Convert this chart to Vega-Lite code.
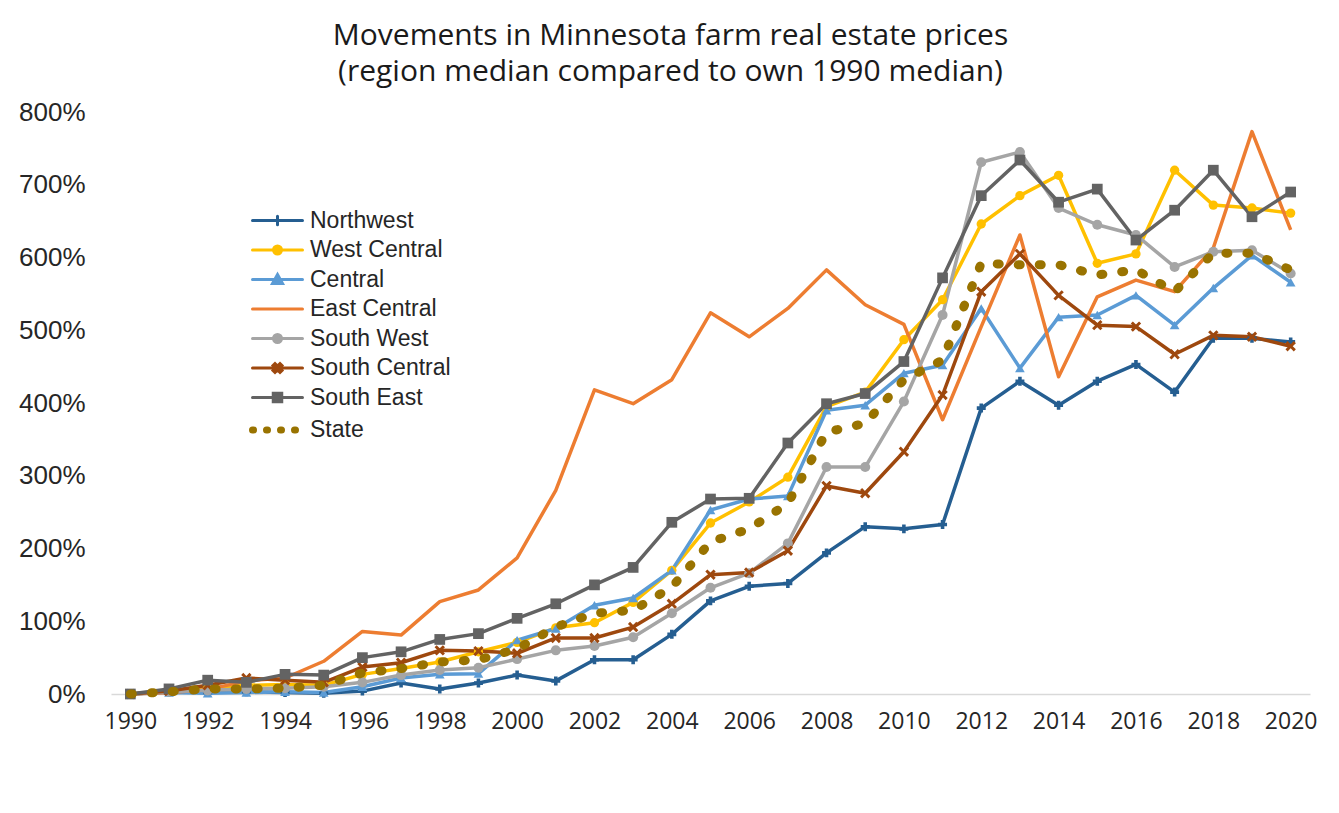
{
  "$schema": "https://vega.github.io/schema/vega-lite/v6.json",
  "width": 1199,
  "height": 582,
  "autosize": {"type": "none"},
  "padding": {"left": 111, "top": 112, "right": 29, "bottom": 119},
  "background": "white",
  "config": {"view": {"stroke": null}},
  "title": {
    "text": ["Movements in Minnesota farm real estate prices", "(region median compared to own 1990 median)"],
    "font": "Open Sans", "fontSize": 30, "fontWeight": "normal", "color": "#1a1a1a",
    "anchor": "middle", "frame": "group", "dx": -40, "offset": 12, "lineHeight": 36
  },
  "datasets": {
    "d": [
      {"region":"Northwest","year":1990,"value":0},{"region":"Northwest","year":1991,"value":3},{"region":"Northwest","year":1992,"value":2},{"region":"Northwest","year":1993,"value":3},{"region":"Northwest","year":1994,"value":2},{"region":"Northwest","year":1995,"value":1},{"region":"Northwest","year":1996,"value":4},{"region":"Northwest","year":1997,"value":15},{"region":"Northwest","year":1998,"value":7},{"region":"Northwest","year":1999,"value":15},{"region":"Northwest","year":2000,"value":26},{"region":"Northwest","year":2001,"value":18},{"region":"Northwest","year":2002,"value":47},{"region":"Northwest","year":2003,"value":47},{"region":"Northwest","year":2004,"value":82},{"region":"Northwest","year":2005,"value":128},{"region":"Northwest","year":2006,"value":148},{"region":"Northwest","year":2007,"value":152},{"region":"Northwest","year":2008,"value":194},{"region":"Northwest","year":2009,"value":230},{"region":"Northwest","year":2010,"value":227},{"region":"Northwest","year":2011,"value":233},{"region":"Northwest","year":2012,"value":393},{"region":"Northwest","year":2013,"value":430},{"region":"Northwest","year":2014,"value":397},{"region":"Northwest","year":2015,"value":430},{"region":"Northwest","year":2016,"value":453},{"region":"Northwest","year":2017,"value":415},{"region":"Northwest","year":2018,"value":489},{"region":"Northwest","year":2019,"value":489},{"region":"Northwest","year":2020,"value":484},
      {"region":"West Central","year":1990,"value":0},{"region":"West Central","year":1991,"value":3},{"region":"West Central","year":1992,"value":8},{"region":"West Central","year":1993,"value":12},{"region":"West Central","year":1994,"value":13},{"region":"West Central","year":1995,"value":12},{"region":"West Central","year":1996,"value":27},{"region":"West Central","year":1997,"value":35},{"region":"West Central","year":1998,"value":44},{"region":"West Central","year":1999,"value":58},{"region":"West Central","year":2000,"value":71},{"region":"West Central","year":2001,"value":91},{"region":"West Central","year":2002,"value":98},{"region":"West Central","year":2003,"value":126},{"region":"West Central","year":2004,"value":170},{"region":"West Central","year":2005,"value":235},{"region":"West Central","year":2006,"value":264},{"region":"West Central","year":2007,"value":298},{"region":"West Central","year":2008,"value":395},{"region":"West Central","year":2009,"value":415},{"region":"West Central","year":2010,"value":487},{"region":"West Central","year":2011,"value":542},{"region":"West Central","year":2012,"value":646},{"region":"West Central","year":2013,"value":685},{"region":"West Central","year":2014,"value":713},{"region":"West Central","year":2015,"value":592},{"region":"West Central","year":2016,"value":605},{"region":"West Central","year":2017,"value":720},{"region":"West Central","year":2018,"value":672},{"region":"West Central","year":2019,"value":668},{"region":"West Central","year":2020,"value":661},
      {"region":"Central","year":1990,"value":0},{"region":"Central","year":1991,"value":2},{"region":"Central","year":1992,"value":1},{"region":"Central","year":1993,"value":2},{"region":"Central","year":1994,"value":3},{"region":"Central","year":1995,"value":2},{"region":"Central","year":1996,"value":10},{"region":"Central","year":1997,"value":22},{"region":"Central","year":1998,"value":27},{"region":"Central","year":1999,"value":28},{"region":"Central","year":2000,"value":74},{"region":"Central","year":2001,"value":90},{"region":"Central","year":2002,"value":122},{"region":"Central","year":2003,"value":132},{"region":"Central","year":2004,"value":170},{"region":"Central","year":2005,"value":253},{"region":"Central","year":2006,"value":268},{"region":"Central","year":2007,"value":272},{"region":"Central","year":2008,"value":390},{"region":"Central","year":2009,"value":397},{"region":"Central","year":2010,"value":441},{"region":"Central","year":2011,"value":452},{"region":"Central","year":2012,"value":530},{"region":"Central","year":2013,"value":448},{"region":"Central","year":2014,"value":518},{"region":"Central","year":2015,"value":521},{"region":"Central","year":2016,"value":548},{"region":"Central","year":2017,"value":507},{"region":"Central","year":2018,"value":558},{"region":"Central","year":2019,"value":603},{"region":"Central","year":2020,"value":566},
      {"region":"East Central","year":1990,"value":0},{"region":"East Central","year":1991,"value":2},{"region":"East Central","year":1992,"value":6},{"region":"East Central","year":1993,"value":18},{"region":"East Central","year":1994,"value":22},{"region":"East Central","year":1995,"value":45},{"region":"East Central","year":1996,"value":86},{"region":"East Central","year":1997,"value":81},{"region":"East Central","year":1998,"value":127},{"region":"East Central","year":1999,"value":143},{"region":"East Central","year":2000,"value":187},{"region":"East Central","year":2001,"value":280},{"region":"East Central","year":2002,"value":418},{"region":"East Central","year":2003,"value":399},{"region":"East Central","year":2004,"value":432},{"region":"East Central","year":2005,"value":524},{"region":"East Central","year":2006,"value":491},{"region":"East Central","year":2007,"value":530},{"region":"East Central","year":2008,"value":583},{"region":"East Central","year":2009,"value":535},{"region":"East Central","year":2010,"value":508},{"region":"East Central","year":2011,"value":377},{"region":"East Central","year":2012,"value":505},{"region":"East Central","year":2013,"value":631},{"region":"East Central","year":2014,"value":436},{"region":"East Central","year":2015,"value":546},{"region":"East Central","year":2016,"value":569},{"region":"East Central","year":2017,"value":553},{"region":"East Central","year":2018,"value":613},{"region":"East Central","year":2019,"value":773},{"region":"East Central","year":2020,"value":638},
      {"region":"South West","year":1990,"value":0},{"region":"South West","year":1991,"value":3},{"region":"South West","year":1992,"value":5},{"region":"South West","year":1993,"value":7},{"region":"South West","year":1994,"value":8},{"region":"South West","year":1995,"value":10},{"region":"South West","year":1996,"value":16},{"region":"South West","year":1997,"value":26},{"region":"South West","year":1998,"value":33},{"region":"South West","year":1999,"value":36},{"region":"South West","year":2000,"value":48},{"region":"South West","year":2001,"value":60},{"region":"South West","year":2002,"value":66},{"region":"South West","year":2003,"value":78},{"region":"South West","year":2004,"value":111},{"region":"South West","year":2005,"value":146},{"region":"South West","year":2006,"value":166},{"region":"South West","year":2007,"value":207},{"region":"South West","year":2008,"value":312},{"region":"South West","year":2009,"value":312},{"region":"South West","year":2010,"value":402},{"region":"South West","year":2011,"value":521},{"region":"South West","year":2012,"value":731},{"region":"South West","year":2013,"value":745},{"region":"South West","year":2014,"value":668},{"region":"South West","year":2015,"value":645},{"region":"South West","year":2016,"value":631},{"region":"South West","year":2017,"value":587},{"region":"South West","year":2018,"value":608},{"region":"South West","year":2019,"value":610},{"region":"South West","year":2020,"value":578},
      {"region":"South Central","year":1990,"value":0},{"region":"South Central","year":1991,"value":4},{"region":"South Central","year":1992,"value":12},{"region":"South Central","year":1993,"value":22},{"region":"South Central","year":1994,"value":19},{"region":"South Central","year":1995,"value":16},{"region":"South Central","year":1996,"value":37},{"region":"South Central","year":1997,"value":43},{"region":"South Central","year":1998,"value":60},{"region":"South Central","year":1999,"value":59},{"region":"South Central","year":2000,"value":56},{"region":"South Central","year":2001,"value":77},{"region":"South Central","year":2002,"value":77},{"region":"South Central","year":2003,"value":92},{"region":"South Central","year":2004,"value":124},{"region":"South Central","year":2005,"value":164},{"region":"South Central","year":2006,"value":167},{"region":"South Central","year":2007,"value":197},{"region":"South Central","year":2008,"value":286},{"region":"South Central","year":2009,"value":276},{"region":"South Central","year":2010,"value":333},{"region":"South Central","year":2011,"value":411},{"region":"South Central","year":2012,"value":553},{"region":"South Central","year":2013,"value":605},{"region":"South Central","year":2014,"value":548},{"region":"South Central","year":2015,"value":507},{"region":"South Central","year":2016,"value":505},{"region":"South Central","year":2017,"value":467},{"region":"South Central","year":2018,"value":493},{"region":"South Central","year":2019,"value":491},{"region":"South Central","year":2020,"value":478},
      {"region":"South East","year":1990,"value":0},{"region":"South East","year":1991,"value":7},{"region":"South East","year":1992,"value":19},{"region":"South East","year":1993,"value":16},{"region":"South East","year":1994,"value":27},{"region":"South East","year":1995,"value":26},{"region":"South East","year":1996,"value":50},{"region":"South East","year":1997,"value":58},{"region":"South East","year":1998,"value":75},{"region":"South East","year":1999,"value":83},{"region":"South East","year":2000,"value":104},{"region":"South East","year":2001,"value":124},{"region":"South East","year":2002,"value":150},{"region":"South East","year":2003,"value":174},{"region":"South East","year":2004,"value":236},{"region":"South East","year":2005,"value":268},{"region":"South East","year":2006,"value":269},{"region":"South East","year":2007,"value":345},{"region":"South East","year":2008,"value":399},{"region":"South East","year":2009,"value":413},{"region":"South East","year":2010,"value":457},{"region":"South East","year":2011,"value":572},{"region":"South East","year":2012,"value":685},{"region":"South East","year":2013,"value":734},{"region":"South East","year":2014,"value":676},{"region":"South East","year":2015,"value":694},{"region":"South East","year":2016,"value":624},{"region":"South East","year":2017,"value":665},{"region":"South East","year":2018,"value":720},{"region":"South East","year":2019,"value":656},{"region":"South East","year":2020,"value":690},
      {"region":"State","year":1990,"value":0},{"region":"State","year":1991,"value":3},{"region":"State","year":1992,"value":7},{"region":"State","year":1993,"value":7},{"region":"State","year":1994,"value":8},{"region":"State","year":1995,"value":12},{"region":"State","year":1996,"value":29},{"region":"State","year":1997,"value":35},{"region":"State","year":1998,"value":44},{"region":"State","year":1999,"value":47},{"region":"State","year":2000,"value":62},{"region":"State","year":2001,"value":92},{"region":"State","year":2002,"value":111},{"region":"State","year":2003,"value":115},{"region":"State","year":2004,"value":147},{"region":"State","year":2005,"value":209},{"region":"State","year":2006,"value":227},{"region":"State","year":2007,"value":262},{"region":"State","year":2008,"value":360},{"region":"State","year":2009,"value":372},{"region":"State","year":2010,"value":432},{"region":"State","year":2011,"value":459},{"region":"State","year":2012,"value":592},{"region":"State","year":2013,"value":590},{"region":"State","year":2014,"value":590},{"region":"State","year":2015,"value":576},{"region":"State","year":2016,"value":583},{"region":"State","year":2017,"value":553},{"region":"State","year":2018,"value":606},{"region":"State","year":2019,"value":606},{"region":"State","year":2020,"value":583}
    ]
  },
  "data": {"name": "d"},
  "encoding": {
    "x": {
      "field": "year", "type": "quantitative",
      "scale": {"domain": [1989.5, 2020.5], "nice": false, "zero": false},
      "axis": {
        "title": null, "grid": false, "ticks": false, "domain": true,
        "domainColor": "#d9d9d9", "domainWidth": 1.5,
        "values": [1990,1992,1994,1996,1998,2000,2002,2004,2006,2008,2010,2012,2014,2016,2018,2020],
        "format": "d", "labelFont": "Open Sans", "labelFontSize": 23, "labelColor": "#262626",
        "labelPadding": 16, "labelFlush": false, "labelOverlap": false
      }
    },
    "y": {
      "field": "value", "type": "quantitative",
      "scale": {"domain": [0, 800], "nice": false},
      "axis": {
        "title": null, "grid": false, "ticks": false, "domain": false,
        "values": [0,100,200,300,400,500,600,700,800],
        "labelExpr": "datum.value + '%'",
        "labelFont": "Liberation Sans", "labelFontSize": 26, "labelColor": "#262626",
        "labelPadding": 26
      }
    },
    "color": {
      "field": "region", "type": "nominal",
      "scale": {
        "domain": ["Northwest","West Central","Central","East Central","South West","South Central","South East","State"],
        "range": ["#255E91","#FFC000","#5B9BD5","#ED7D31","#A5A5A5","#9E480E","#636363","#997300"]
      },
      "legend": {
        "title": null, "orient": "none", "legendX": 141, "legendY": 97, "direction": "vertical", "columns": 1,
        "padding": 0, "symbolSize": 2500, "rowPadding": 5.5, "symbolOffset": 14, "labelOffset": 21,
        "labelFont": "Liberation Sans", "labelFontSize": 23, "labelColor": "#262626", "labelLimit": 400,
        "encode": {
          "symbols": {
            "update": {
              "shape": {"signal": "datum.value === 'Northwest' ? 'M-1,0L1,0M0,-0.17L0,0.17' : (datum.value === 'West Central' || datum.value === 'South West') ? 'M-1,0L1,0M-0.16,0A0.16,0.16,0,1,1,0.16,0A0.16,0.16,0,1,1,-0.16,0Z' : datum.value === 'Central' ? 'M-1,0L1,0M0,-0.2L0.2,0.16L-0.2,0.16Z' : datum.value === 'South Central' ? 'M-1,0L1,0M-0.18,-0.1L-0.1,-0.18L0,-0.08L0.1,-0.18L0.18,-0.1L0.08,0L0.18,0.1L0.1,0.18L0,0.08L-0.1,0.18L-0.18,0.1L-0.08,0Z' : datum.value === 'South East' ? 'M-1,0L1,0M-0.17,-0.17L0.17,-0.17L0.17,0.17L-0.17,0.17Z' : 'M-1,0L1,0'"},
              "stroke": {"signal": "scale('color', datum.value)"},
              "fill": {"signal": "scale('color', datum.value)"},
              "strokeWidth": {"signal": "datum.value === 'State' ? 7 : 3"},
              "strokeDash": {"signal": "datum.value === 'State' ? [1, 13] : null"},
              "strokeCap": {"value": "round"},
              "opacity": {"value": 1},
              "fillOpacity": {"value": 1},
              "strokeOpacity": {"value": 1}
            }
          }
        }
      }
    }
  },
  "layer": [
    {
      "transform": [{"filter": "datum.region !== 'State'"}],
      "mark": {"type": "line", "strokeWidth": 3.5, "strokeJoin": "round"}
    },
    {
      "transform": [{"filter": "datum.region !== 'State' && datum.region !== 'East Central'"}],
      "mark": {"type": "point", "filled": true, "opacity": 1, "strokeWidth": 0},
      "encoding": {
        "shape": {
          "field": "region", "type": "nominal",
          "scale": {
            "domain": ["Northwest","West Central","Central","South West","South Central","South East"],
            "range": ["cross","circle","triangle-up","circle","M-1,-0.6L-0.6,-1L0,-0.4L0.6,-1L1,-0.6L0.4,0L1,0.6L0.6,1L0,0.4L-0.6,1L-1,0.6L-0.4,0Z","square"]
          },
          "legend": null
        },
        "size": {
          "field": "region", "type": "ordinal",
          "scale": {
            "domain": ["Northwest","West Central","Central","South West","South Central","South East"],
            "range": [80, 115, 170, 115, 180, 320]
          },
          "legend": null
        }
      }
    },
    {
      "transform": [{"filter": "datum.region === 'State'"}],
      "mark": {"type": "line", "strokeWidth": 9, "strokeDash": [2, 19], "strokeCap": "round"}
    }
  ]
}
